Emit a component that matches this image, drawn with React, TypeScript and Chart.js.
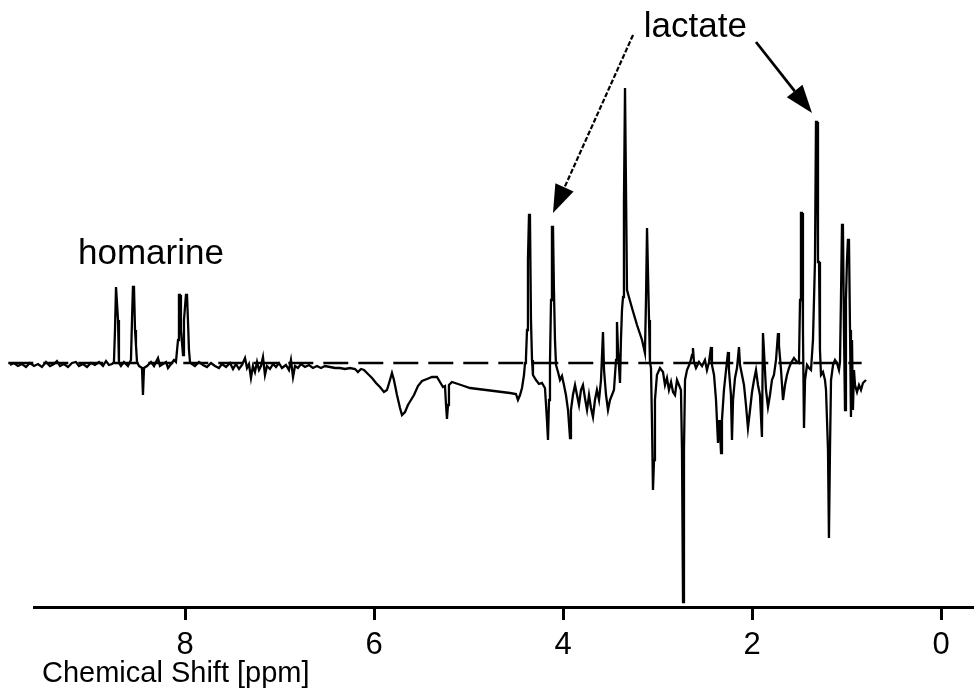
import React, { useEffect, useRef } from 'react';
import { Chart, registerables } from 'chart.js';

Chart.register(...registerables);

// Chemical shift (ppm), listed from left (high ppm) to right (low ppm)
const shiftPpm = [
  9.852, 9.810, 9.768, 9.725, 9.683, 9.641, 9.598, 9.556, 9.514, 9.471, 9.429, 9.387, 9.355, 9.323, 9.281, 9.238,
  9.196, 9.154, 9.122, 9.080, 9.037, 8.995, 8.953, 8.910, 8.868, 8.836, 8.805, 8.773, 8.752, 8.741, 8.730, 8.720,
  8.709, 8.699, 8.678, 8.646, 8.604, 8.572, 8.561, 8.551, 8.540, 8.529, 8.519, 8.508, 8.487, 8.455, 8.445, 8.434,
  8.402, 8.360, 8.328, 8.307, 8.286, 8.265, 8.233, 8.201, 8.180, 8.148, 8.117, 8.096, 8.074, 8.064, 8.053, 8.043,
  8.021, 8.011, 7.990, 7.979, 7.969, 7.958, 7.947, 7.926, 7.895, 7.852, 7.810, 7.768, 7.725, 7.683, 7.641, 7.609,
  7.566, 7.524, 7.492, 7.461, 7.429, 7.397, 7.365, 7.344, 7.323, 7.302, 7.281, 7.260, 7.238, 7.217, 7.196, 7.175,
  7.154, 7.133, 7.101, 7.069, 7.037, 7.006, 6.974, 6.932, 6.900, 6.879, 6.857, 6.836, 6.805, 6.773, 6.730, 6.688,
  6.646, 6.604, 6.561, 6.519, 6.466,
  6.413, 6.360, 6.307, 6.254, 6.201, 6.170, 6.138, 6.106, 6.064, 6.021, 5.979, 5.937, 5.895, 5.863, 5.831, 5.810,
  5.789, 5.757, 5.725, 5.704, 5.672, 5.641, 5.609, 5.577, 5.535, 5.492, 5.439, 5.387, 5.334, 5.302, 5.270, 5.249,
  5.238, 5.228, 5.217, 5.207, 5.175, 5.111, 5.048, 4.984, 4.900, 4.815, 4.730, 4.646, 4.561, 4.498, 4.477, 4.455,
  4.434, 4.413, 4.402,
  4.392, 4.381, 4.371, 4.360, 4.350, 4.339, 4.328, 4.318, 4.286, 4.254, 4.223, 4.191, 4.170, 4.159, 4.148, 4.138,
  4.127, 4.117, 4.106, 4.096, 4.085, 4.074, 4.053, 4.032, 4.011, 3.990, 3.969, 3.947, 3.926, 3.916, 3.895, 3.873,
  3.852, 3.831, 3.810, 3.789, 3.768, 3.746, 3.725, 3.704, 3.683, 3.662, 3.641, 3.619, 3.598, 3.577, 3.566, 3.545,
  3.524, 3.503, 3.482, 3.461, 3.439, 3.429, 3.418, 3.397, 3.387, 3.376, 3.365, 3.355, 3.344, 3.334, 3.323, 3.270,
  3.217, 3.164, 3.133, 3.122, 3.111, 3.101, 3.090, 3.080, 3.069, 3.059, 3.048, 3.037, 3.027, 3.006, 2.974, 2.942,
  2.921, 2.900, 2.879, 2.857, 2.836, 2.815, 2.794, 2.773, 2.752, 2.741, 2.730, 2.720, 2.709, 2.688, 2.656, 2.635,
  2.625, 2.614, 2.593, 2.561, 2.529, 2.498, 2.477, 2.455, 2.434, 2.424, 2.402, 2.381, 2.360, 2.349, 2.339, 2.328,
  2.318, 2.297, 2.275, 2.254, 2.244, 2.223, 2.212, 2.201, 2.180, 2.159, 2.138, 2.127, 2.106, 2.085, 2.064, 2.043,
  2.021, 2.000, 1.979, 1.958, 1.937, 1.916, 1.895, 1.884, 1.874, 1.852, 1.831, 1.810, 1.789, 1.768, 1.746, 1.725,
  1.715, 1.693, 1.672, 1.651, 1.630, 1.609, 1.588, 1.556, 1.524, 1.503, 1.492, 1.482, 1.471, 1.461, 1.450, 1.439,
  1.418, 1.397, 1.376, 1.355, 1.334, 1.323, 1.312, 1.302, 1.291, 1.281, 1.270, 1.249, 1.228, 1.217, 1.196, 1.186,
  1.175, 1.164, 1.143, 1.122, 1.101, 1.080, 1.069, 1.059, 1.048, 1.038, 1.027, 1.016, 1.006, 0.995, 0.985, 0.974,
  0.963, 0.953, 0.942, 0.932, 0.921, 0.910, 0.889, 0.868, 0.847, 0.826, 0.794,
];

// Signal intensity (arbitrary units, 0 = baseline)
const intensity = [
  -2, 0, -3, -1, -4, 0, -3, -1, -4, 1, -3, -1, 2, -3, -1, -4,
  0, 1, -3, -1, -4, 0, -2, 1, -3, 2, -2, -1, 1, 33, 76, 76,
  43, 0, -3, 1, -3, 3, 43, 76, 76, 33, 18, 1, -3, -5, -32, -5,
  -3, 1, -3, 1, 5, -3, -1, 1, -5, -1, 3, 1, 23, 68, 68, 33,
  8, 43, 68, 68, 43, 13, 1, -1, -3, 1, -2, -4, 0, -3, -5, -1,
  -4, 0, -6, -1, -6, -2, 5, -5, -1, -15, -3, -9, 1, -7, -3, 6,
  -12, -3, -6, -1, -4, 0, -5, -2, -7, 3, -14, -3, -5, -1, -4, -2,
  -5, -3, -5, -3, -4,
  -5, -5, -6, -5, -6, -9, -6, -7, -11, -15, -20, -24, -29, -27, -17, -10,
  -17, -32, -45, -52, -49, -42, -37, -32, -23, -18, -16, -14, -14, -19, -24, -23,
  -42, -56, -42, -22, -19, -21, -23, -25, -26, -27, -28, -29, -30, -31, -37, -32,
  -25, -12, 0,
  5, 33, 103, 148, 148, 43, 3, -12, -17, -21, -20, -25, -57, -77, -37, 0,
  63, 136, 136, 73, 23, -2, -9, -17, -13, -22, -32, -47, -75, -47, -32, -22,
  -32, -42, -27, -22, -35, -47, -32, -45, -54, -37, -27, -37, -17, 31, -7, -32,
  -47, -37, -32, -27, 3, 41, 13, -20, 23, 53, 66, 163, 275, 275, 73, 55,
  38, 23, 10, 63, 135, 135, 43, 1, -5, -57, -127, -97, -37, -12, -5, -9,
  -22, -15, -27, -19, -29, -32, -17, -22, -27, -87, -239, -87, -17, -7, 0, 8,
  15, 1, -5, 1, -3, 3, -7, 1, 16, -2, -12, -37, -80, -57, -67, -90,
  -57, -27, -7, 11, -7, -32, -77, -37, -15, -5, 16, -2, -12, -22, -42, -65,
  -47, -29, -17, -7, -22, -32, -74, 30, 13, -27, -44, -32, -17, -12, 3, 30,
  18, -7, -37, -22, -12, -5, 0, 5, 1, 0, 63, 150, 150, 33, -65, -17,
  -2, -5, -7, 23, 101, 241, 241, 101, 101, 13, -12, -9, -17, -27, -87, -175,
  -87, -17, -2, 3, 0, -7, 1, 63, 138, 138, 33, -47, 63, 103, 123, 123,
  33, -54, 23, -47, -7, -22, -29, -22, -27, -20, -17,
];

// Dashed zero reference line (ppm start / end)
const baselinePpm = [9.87, 0.84];
const baselineValue = [0, 0];

// Axis ticks and title
const xTickValues = [8, 6, 4, 2, 0];
const xAxisTitle = 'Chemical Shift [ppm]';

// Text annotations
const labelTexts = ['homarine', 'lactate'];
const labelPpm = [8.36, 2.6];
const labelValue = [99, 326];

// Arrows (from text toward lactate peaks)
const arrowFromPpm = [3.259, 1.958];
const arrowFromValue = [328, 321];
const arrowToPpm = [4.106, 1.365];
const arrowToValue = [150, 250];
const arrowDashed = [true, false];

const FONT = '"Liberation Sans", Arial, Helvetica, sans-serif';

const annotationPlugin = {
  id: 'nmrAnnotations',
  afterDatasetsDraw(chart: any) {
    const { ctx, scales } = chart;
    const x = scales.x;
    const y = scales.y;
    ctx.save();
    ctx.fillStyle = '#000';
    ctx.font = `35px ${FONT}`;
    ctx.textAlign = 'center';
    ctx.textBaseline = 'alphabetic';
    labelTexts.forEach((t, i) => {
      ctx.fillText(t, x.getPixelForValue(labelPpm[i]), y.getPixelForValue(labelValue[i]));
    });

    arrowFromPpm.forEach((_, i) => {
      const x0 = x.getPixelForValue(arrowFromPpm[i]);
      const y0 = y.getPixelForValue(arrowFromValue[i]);
      const x1 = x.getPixelForValue(arrowToPpm[i]);
      const y1 = y.getPixelForValue(arrowToValue[i]);
      const ang = Math.atan2(y1 - y0, x1 - x0);
      const headLen = 28;
      const headHalf = 10;
      const bx = x1 - headLen * Math.cos(ang);
      const by = y1 - headLen * Math.sin(ang);
      ctx.strokeStyle = '#000';
      ctx.lineWidth = arrowDashed[i] ? 2.2 : 2.8;
      ctx.setLineDash(arrowDashed[i] ? [5, 2] : []);
      ctx.beginPath();
      ctx.moveTo(x0, y0);
      ctx.lineTo(bx, by);
      ctx.stroke();
      ctx.setLineDash([]);
      ctx.beginPath();
      ctx.moveTo(x1, y1);
      ctx.lineTo(bx + headHalf * Math.sin(ang), by - headHalf * Math.cos(ang));
      ctx.lineTo(bx - headHalf * Math.sin(ang), by + headHalf * Math.cos(ang));
      ctx.closePath();
      ctx.fill();
    });

    // x-axis title, left-aligned under the axis
    ctx.font = `29px ${FONT}`;
    ctx.textAlign = 'left';
    ctx.fillText(xAxisTitle, x.left + 8, x.bottom - 11);
    ctx.restore();
  },
};

export default function App() {
  const ref = useRef<HTMLCanvasElement | null>(null);

  useEffect(() => {
    if (!ref.current) return;
    const chart = new Chart(ref.current, {
      type: 'line',
      data: {
        datasets: [
          {
            label: 'baseline',
            data: baselinePpm.map((p, i) => ({ x: p, y: baselineValue[i] })),
            borderColor: '#000',
            borderWidth: 2.6,
            borderDash: [25, 10],
            pointRadius: 0,
            clip: false,
          } as any,
          {
            label: 'spectrum',
            data: shiftPpm.map((p, i) => ({ x: p, y: intensity[i] })),
            borderColor: '#000',
            borderWidth: 2.3,
            pointRadius: 0,
            tension: 0,
            clip: false,
          } as any,
        ],
      },
      options: {
        animation: false,
        responsive: false,
        events: [],
        layout: { padding: { left: 34, right: 0, top: 0, bottom: 0 } },
        plugins: { legend: { display: false }, tooltip: { enabled: false } },
        scales: {
          x: {
            type: 'linear',
            reverse: true,
            min: 9.598,
            max: -0.349,
            afterBuildTicks: (scale: any) => {
              scale.ticks = xTickValues.map((v) => ({ value: v }));
            },
            afterFit: (scale: any) => {
              scale.height = 86;
            },
            grid: {
              drawOnChartArea: false,
              drawTicks: true,
              tickLength: 13,
              tickWidth: 3,
              color: '#000',
            },
            border: { display: true, width: 3, color: '#000' },
            ticks: {
              color: '#000',
              padding: 7,
              maxRotation: 0,
              autoSkip: false,
              font: { family: FONT, size: 31 },
            },
            title: { display: false },
          },
          y: {
            type: 'linear',
            display: false,
            min: -244,
            max: 363,
          },
        },
      } as any,
      plugins: [annotationPlugin],
    });
    return () => chart.destroy();
  }, []);

  return (
    <canvas
      ref={ref}
      width={974}
      height={693}
      style={{ position: 'absolute', left: 0, top: 0, width: 974, height: 693 }}
    />
  );
}
